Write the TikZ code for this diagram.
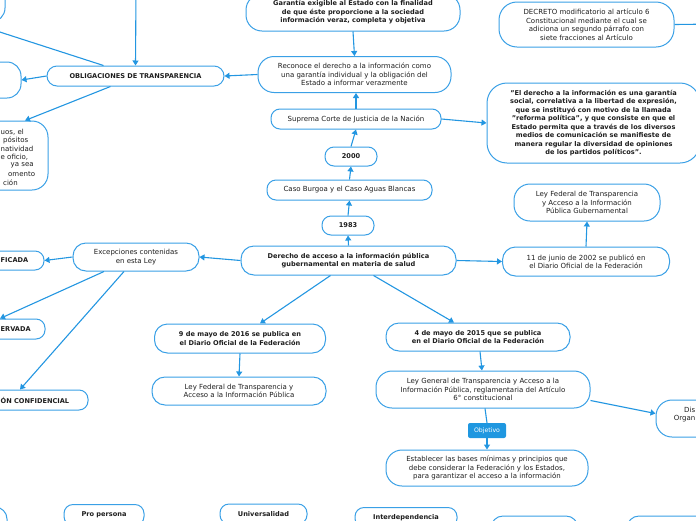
\documentclass[tikz,border=0pt]{standalone}
\usepackage{fontspec}
\setmainfont{DejaVu Sans}
\usetikzlibrary{arrows.meta,calc}
\definecolor{bord}{RGB}{58,160,230}
\definecolor{ln}{RGB}{35,150,225}
\definecolor{txt}{RGB}{30,30,30}
\definecolor{objfill}{RGB}{31,151,224}
\newcommand\fsn{\fontsize{7.0}{8.5}\selectfont}
\newcommand\fsb{\fontsize{6.6}{8.5}\selectfont\bfseries}
\tikzset{
  bx/.style={draw=bord, line width=1pt, rounded corners=9pt, inner sep=0pt, align=center, font=\fsn, text=txt, fill=white},
  bb/.style={bx, font=\fsb},
  frag/.style={inner sep=0pt, font=\fsn, text=txt},
  fragb/.style={inner sep=0pt, font=\fsb, text=txt},
  arr/.style={draw=ln, line width=1.1pt, -{Triangle[length=5pt,width=6pt]}},
  plain/.style={draw=ln, line width=1.1pt},
}
\begin{document}
\begin{tikzpicture}[x=1pt,y=-1pt]
\useasboundingbox (0,0) rectangle (696,520);
\clip (0,0) rectangle (696,520);
% off-canvas coordinates
\coordinate (topin) at (136,-10);
\coordinate (tlout) at (-25,24);
\coordinate (decout) at (720,24);
% partial nodes on the left
\node[bx, rounded corners=14pt, minimum width=125pt, minimum height=52pt] (tl) at (-57.5,-4) {};
\node[bx, rounded corners=14pt, minimum width=121pt, minimum height=36pt] (n2) at (-39.5,80) {};
\node[bx, rounded corners=16pt, minimum width=128pt, minimum height=69pt] (n3) at (-16,155.5) {};
\node[frag, anchor=west] (t1) at (0.5,132) {uos, el};
\node[frag, anchor=west] (t2) at (3,140) {pósitos};
\node[frag, anchor=west] (t3) at (0.5,148.5) {natividad};
\node[frag, anchor=west] (t4) at (0.5,157) {e oficio,};
\node[frag, anchor=west] (t5) at (10.5,165.5) {ya sea};
\node[frag, anchor=west] (t6) at (8,174) {omento};
\node[frag, anchor=west] (t7) at (3,182.5) {ción};
% main column
\node[bb, rounded corners=10pt, minimum width=177pt, minimum height=20pt] (oblig) at (135.5,76) {OBLIGACIONES DE TRANSPARENCIA};
\node[bb, rounded corners=16pt, minimum width=214pt, minimum height=37pt] (gar) at (353,12.5) {Garantía exigible al Estado con la finalidad\\de que éste proporcione a la sociedad\\información veraz, completa y objetiva};
\node[bx, rounded corners=16pt, minimum width=193pt, minimum height=36pt] (rec) at (354.5,74.5) {Reconoce el derecho a la información como\\una garantía individual y la obligación del\\Estado a informar verazmente};
\node[bx, minimum width=170pt, minimum height=20pt] (sup) at (356,119) {Suprema Corte de Justicia de la Nación};
\node[bb, minimum width=52pt, minimum height=19pt] (y2000) at (351,156.5) {2000};
\node[bx, minimum width=165pt, minimum height=20pt] (caso) at (349.5,190) {Caso Burgoa y el Caso Aguas Blancas};
\node[bb, minimum width=52pt, minimum height=19pt] (y1983) at (348,225.5) {1983};
\node[bb, rounded corners=13pt, minimum width=215pt, minimum height=29pt] (der) at (348.5,260.5) {Derecho de acceso a la información pública\\gubernamental en materia de salud};
% right side
\node[bb, rounded corners=20pt, minimum width=213pt, minimum height=80pt] (quote) at (593.5,123) {"El derecho a la información es una garantía\\social, correlativa a la libertad de expresión,\\que se instituyó con motivo de la llamada\\"reforma política", y que consiste en que el\\Estado permita que a través de los diversos\\medios de comunicación se manifieste de\\manera regular la diversidad de opiniones\\de los partidos políticos".};
\node[bx, rounded corners=18pt, minimum width=175pt, minimum height=45pt] (dec) at (586.5,24.5) {DECRETO modificatorio al artículo 6\\Constitucional mediante el cual se\\adiciona un segundo párrafo con\\siete fracciones al Artículo};
\node[bx, rounded corners=16pt, minimum width=146pt, minimum height=37pt] (leygub) at (587,202.5) {Ley Federal de Transparencia\\y Acceso a la Información\\Pública Gubernamental};
\node[bx, rounded corners=13pt, minimum width=167pt, minimum height=29pt] (jun) at (586,261.5) {11 de junio de 2002 se publicó en\\el Diario Oficial de la Federación};
% left exceptions
\node[bx, rounded corners=13pt, minimum width=126pt, minimum height=28pt] (exc) at (136,257) {Excepciones contenidas\\en esta Ley};
\node[bx, minimum width=144pt, minimum height=19pt] (fic) at (-28,260.5) {};
\node[fragb, anchor=west] (ficl) at (0.5,260.5) {FICADA};
\node[bx, minimum width=145pt, minimum height=20pt] (erv) at (-27.5,329) {};
\node[fragb, anchor=west] (ervl) at (0.5,329) {ERVADA};
\node[bx, minimum width=188pt, minimum height=20pt] (conf) at (-6,400) {};
\node[fragb, anchor=west] (confl) at (0.5,400) {ÓN CONFIDENCIAL};
% lower branches
\node[bb, rounded corners=13pt, minimum width=171pt, minimum height=29pt] (may16) at (240,338.5) {9 de mayo de 2016 se publica en\\el Diario Oficial de la Federación};
\node[bx, rounded corners=13pt, minimum width=174pt, minimum height=28pt] (leyfed) at (239,391) {Ley Federal de Transparencia y\\Acceso a la Información Pública};
\node[bb, rounded corners=13pt, minimum width=184pt, minimum height=28pt] (may15) at (478,337) {4 de mayo de 2015 que se publica\\en el Diario Oficial de la Federación};
\node[bx, rounded corners=16pt, minimum width=214pt, minimum height=37pt] (leygen) at (483,389.5) {Ley General de Transparencia y Acceso a la\\Información Pública, reglamentaria del Artículo\\6° constitucional};
\node[bx, rounded corners=16pt, minimum width=202pt, minimum height=36pt] (est) at (487,468) {Establecer las bases mínimas y principios que\\debe considerar la Federación y los Estados,\\para garantizar el acceso a la información};
\node[bx, rounded corners=16pt, minimum width=104pt, minimum height=37pt] (dis) at (708,418.5) {};
\node[frag, anchor=west] (disl1) at (684,410) {Dis};
\node[frag, anchor=east] (disl2) at (695.5,419) {Organ};
% bottom row
\node[bx, rounded corners=12pt, minimum width=107pt, minimum height=33pt] (b0) at (-46.5,523.5) {};
\node[bb, minimum width=80pt, minimum height=21pt] (pro) at (104,515) {Pro persona};
\node[bb, minimum width=87pt, minimum height=20pt] (uni) at (263.5,514) {Universalidad};
\node[bb, minimum width=102pt, minimum height=20pt] (inter) at (406,517.5) {Interdependencia};
\node[bx, rounded corners=12pt, minimum width=87pt, minimum height=28pt] (b4) at (534.5,530) {};
\node[bx, rounded corners=12pt, minimum width=133pt, minimum height=28pt] (b5) at (693.5,530) {};
% connectors
\draw[arr] (gar.south) -- (rec.north);
\draw[arr] (sup.north) -- (sup.north |- rec.south);
\draw[arr] (y2000.north) -- (sup.south);
\draw[arr] (caso.north) -- (y2000.south);
\draw[arr] (y1983.north) -- (caso.south);
\draw[arr] (der.north) -- (y1983.south);
\draw[arr] (rec.west) -- (oblig.east);
\draw[arr] (topin) -- (oblig.north);
\draw[arr] ([xshift=-32pt]oblig.north) -- (tlout);
\draw[arr] (oblig.west) -- (n2.east);
\draw[arr] ([xshift=-25pt]oblig.south) -- ([xshift=41pt]n3.north);
\draw[arr] (sup.east) -- (quote.west);
\draw[plain] (dec.east) -- (decout);
\draw[arr] (der.west) -- (exc.east);
\draw[arr] (exc.west) -- (fic.east);
\draw[arr] ([xshift=-32pt]exc.south) -- ([xshift=27.5pt]erv.north);
\draw[arr] ([xshift=-12pt]exc.south) -- ([xshift=26pt]conf.north);
\draw[arr] (der.east) -- (jun.west);
\draw[arr] (jun.north) -- (leygub.south);
\draw[arr] ([xshift=-18pt]der.south) -- ([xshift=20pt]may16.north);
\draw[arr] ([xshift=25pt]der.south) -- ([xshift=-24pt]may15.north);
\draw[arr] (may16.south) -- (leyfed.north);
\draw[arr] ([xshift=2pt]may15.south) -- ([xshift=-1pt]leygen.north);
\draw[arr] ($(leygen.east)+(0,11)$) -- ($(dis.west)+(0,-5)$);
\node[fill=objfill, rounded corners=2pt, minimum width=38pt, minimum height=15pt, inner sep=0pt, text=white, font=\fontsize{6.2}{7}\selectfont] (obj) at (487,430.5) {Objetivo};
\draw[plain] ([xshift=2pt]leygen.south) -- (obj.north);
\draw[arr] (obj.south) -- (est.north);
\end{tikzpicture}
\end{document}
